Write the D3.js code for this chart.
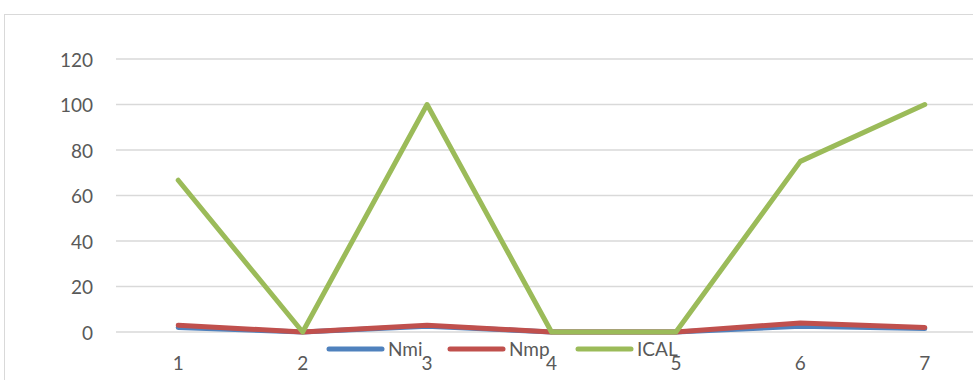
<!DOCTYPE html>
<html>
<head>
<meta charset="utf-8">
<script src="https://cdn.jsdelivr.net/npm/d3@7"></script>
<style>
  html, body { margin: 0; padding: 0; background: #fff; }
  svg { display: block; font-family: Lato, "Open Sans", sans-serif; }
</style>
</head>
<body>
<svg id="chart" width="973" height="380"></svg>
<script>
// Data
const categories = ['1', '2', '3', '4', '5', '6', '7'];
const nmi = [2, 0, 2.5, 0, 0, 2.5, 1.5];
const nmp = [3, 0, 3, 0, 0, 4, 2];
const ical = [66.7, 0, 100, 0, 0, 75, 100];
const yTicks = [0, 20, 40, 60, 80, 100, 120];

const series = [
  { name: 'Nmi', values: nmi, color: '#4f81bd' },
  { name: 'Nmp', values: nmp, color: '#c0504d' },
  { name: 'ICAL', values: ical, color: '#9bbb59' }
];

const svg = d3.select('#chart');
const textColor = '#595959';
const gridColor = '#d9d9d9';
const fontSize = '19px';

// Chart area border
svg.append('rect')
  .attr('x', 4.5)
  .attr('y', 14.5)
  .attr('width', 1000)
  .attr('height', 400)
  .attr('fill', 'none')
  .attr('stroke', gridColor)
  .attr('stroke-width', 1);

// Scales
const x = d3.scaleBand()
  .domain(categories)
  .range([116, 987]);

const y = d3.scaleLinear()
  .domain([0, 120])
  .range([332, 59]);

// Gridlines
svg.append('g')
  .selectAll('line')
  .data(yTicks)
  .enter()
  .append('line')
  .attr('x1', 116)
  .attr('x2', 987)
  .attr('y1', d => y(d))
  .attr('y2', d => y(d))
  .attr('stroke', gridColor)
  .attr('stroke-width', 1.5);

// Y axis labels
const yAxis = svg.append('g')
  .attr('transform', 'translate(93,1)')
  .call(d3.axisLeft(y).tickValues(yTicks).tickSize(0).tickPadding(0));
yAxis.select('.domain').remove();
yAxis.selectAll('text')
  .attr('fill', textColor)
  .attr('font-size', fontSize)
  .attr('font-family', 'Lato, "Open Sans", sans-serif');

// X axis labels
const xAxis = svg.append('g')
  .attr('transform', 'translate(0,' + 356 + ')')
  .call(d3.axisBottom(x).tickSize(0).tickPadding(0));
xAxis.select('.domain').remove();
xAxis.selectAll('text')
  .attr('fill', textColor)
  .attr('font-size', fontSize)
  .attr('font-family', 'Lato, "Open Sans", sans-serif');

// Lines
const line = d3.line()
  .x((d, i) => x(categories[i]) + x.bandwidth() / 2)
  .y(d => y(d));

svg.append('g')
  .selectAll('path')
  .data(series)
  .enter()
  .append('path')
  .attr('d', d => line(d.values))
  .attr('fill', 'none')
  .attr('stroke', d => d.color)
  .attr('stroke-width', 5)
  .attr('stroke-linecap', 'round')
  .attr('stroke-linejoin', 'round');

// Legend
const legendX = [329, 450, 578];
const legend = svg.append('g')
  .selectAll('g')
  .data(series)
  .enter()
  .append('g')
  .attr('transform', (d, i) => `translate(${legendX[i]}, 349)`);

legend.append('line')
  .attr('x1', 0)
  .attr('x2', 53)
  .attr('y1', 0)
  .attr('y2', 0)
  .attr('stroke', d => d.color)
  .attr('stroke-width', 5)
  .attr('stroke-linecap', 'round');

legend.append('text')
  .attr('x', 59)
  .attr('y', 0)
  .attr('dy', '0.35em')
  .attr('fill', textColor)
  .attr('font-size', fontSize)
  .text(d => d.name);
</script>
</body>
</html>
